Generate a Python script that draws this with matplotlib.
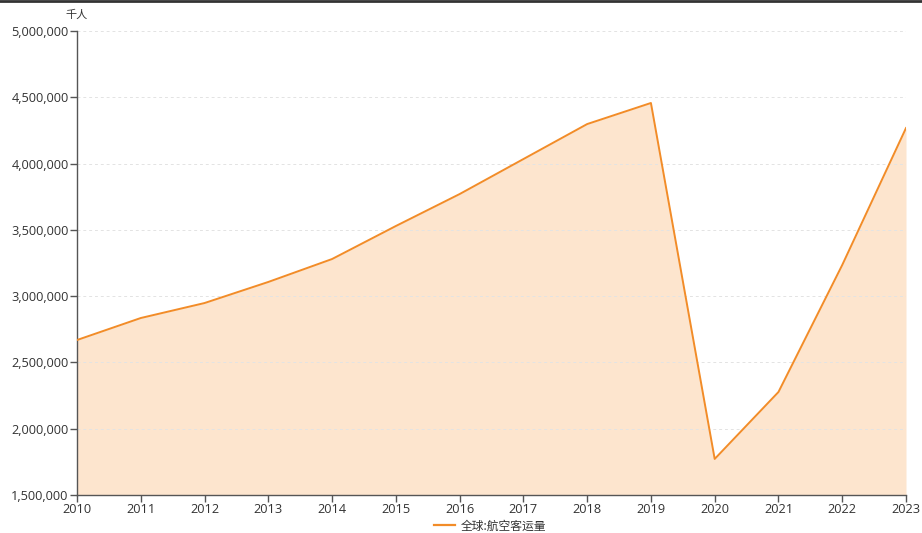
import matplotlib
matplotlib.use("Agg")
import matplotlib.pyplot as plt
from matplotlib.lines import Line2D
from matplotlib.ticker import FuncFormatter

plt.rcParams['font.family'] = ['Open Sans', 'Noto Sans CJK SC', 'DejaVu Sans']

years = list(range(2010, 2024))
passengers = [2669000, 2835000, 2948000, 3107000, 3280000, 3529000, 3770000,
              4034000, 4298000, 4457000, 1772000, 2277000, 3235000, 4268000]
y_ticks = [1500000, 2000000, 2500000, 3000000, 3500000, 4000000, 4500000, 5000000]
series_name = "全球:航空客运量"
unit = "千人"

line_color = "#F28C28"
fill_color = "#FDE5CE"
axis_color = "#555555"
text_color = "#333333"

fig = plt.figure(figsize=(9.22, 5.33), dpi=100)
ax = fig.add_axes([77 / 922, 1 - 495 / 533, (906 - 77) / 922, (495 - 31) / 533])

ax.fill_between(years, passengers, y_ticks[0], color=fill_color, lw=0, zorder=1)
ax.plot(years, passengers, color=line_color, lw=1.4, zorder=3, label=series_name)

ax.set_xlim(years[0], years[-1])
ax.set_ylim(y_ticks[0], y_ticks[-1])
ax.set_xticks(years)
ax.set_yticks(y_ticks)
ax.yaxis.set_major_formatter(FuncFormatter(lambda v, p: f"{int(v):,}"))

for v in y_ticks[1:]:
    ax.axhline(v, color="#E3E3E3", lw=0.7, ls=(0, (3, 3)), zorder=2)

for side in ("top", "right"):
    ax.spines[side].set_visible(False)
for side in ("left", "bottom"):
    ax.spines[side].set_color(axis_color)
    ax.spines[side].set_linewidth(1.0)

ax.tick_params(axis="both", colors=axis_color, labelcolor=text_color,
               labelsize=9.2, length=5, width=1.0)
ax.tick_params(axis="x", pad=1)
ax.tick_params(axis="y", pad=1)

fig.text(77 / 922, 1 - 15 / 533, unit, ha="center", va="center",
         fontsize=8, color=text_color, family=['Noto Sans CJK SC'])

leg = fig.legend(handles=[Line2D([0], [0], color=line_color, lw=1.6)],
                 labels=[series_name], loc="center",
                 bbox_to_anchor=(490 / 922, 1 - 526 / 533), frameon=False,
                 prop={'family': ['Noto Sans CJK SC'], 'size': 8.5},
                 handlelength=1.8, handletextpad=0.5)
for t in leg.get_texts():
    t.set_color(text_color)

# dark rule along the top edge
fig.add_artist(Line2D([0, 1], [0.999, 0.999], transform=fig.transFigure,
                      color="#333333", lw=2))

fig.savefig("out.png", dpi=100, facecolor="white")
